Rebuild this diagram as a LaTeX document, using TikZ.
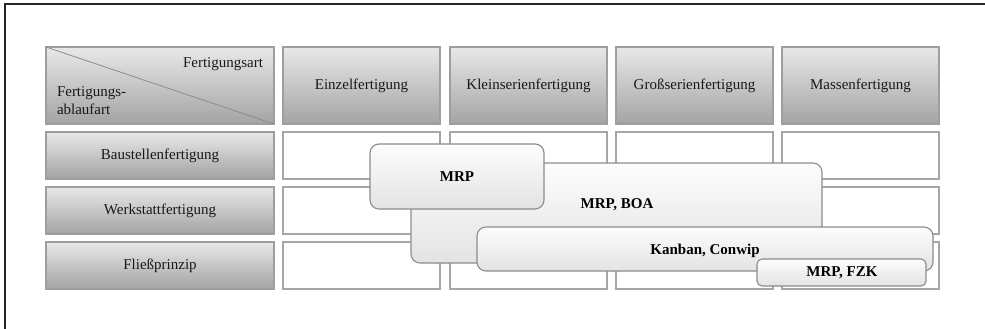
\documentclass[tikz,border=0pt]{standalone}
\usepackage{fontspec}
\setmainfont{Liberation Serif}
\begin{document}
\begin{tikzpicture}[x=1pt,y=-1pt,
  every node/.style={inner sep=0pt, outer sep=0pt},
  lbl/.style={font=\fontsize{15}{18}\selectfont, text=black!90},
  cellbox/.style={draw=black!35, line width=1.3pt, fill=white, anchor=north west},
  headbox/.style={cellbox, top color=black!9, bottom color=black!36, draw=black!38},
  areabox/.style={draw=black!45, line width=1.1pt, rounded corners=9pt,
    top color=black!1, bottom color=black!11},
  arealbl/.style={font=\fontsize{15}{18}\selectfont\bfseries, text=black}
]
\useasboundingbox (0,0) rectangle (985,329);
\fill[white] (0,0) rectangle (985,329);
% outer frame (open to the right and bottom)
\draw[line width=2pt, black!85] (4.5,335) -- (4.5,4.5) -- (990,4.5);

% column widths and row heights
\def\cw{157}
\def\rh{47}

% header row
\node[headbox, minimum width=228pt, minimum height=77pt] (corner) at (46,47) {};
\draw[black!45, line width=0.8pt] (corner.north west) -- (corner.south east);
\node[lbl, anchor=east] (art) at (263,64) {Fertigungsart};
\node[lbl, anchor=west, align=left] (ablauf) at (57,101) {Fertigungs-\\ablaufart};

\node[headbox, minimum width=\cw pt, minimum height=77pt] (h1) at (283,47) {};
\node[headbox, minimum width=\cw pt, minimum height=77pt] (h2) at (450,47) {};
\node[headbox, minimum width=\cw pt, minimum height=77pt] (h3) at (616,47) {};
\node[headbox, minimum width=\cw pt, minimum height=77pt] (h4) at (782,47) {};
\node[lbl] at (h1.center) {Einzelfertigung};
\node[lbl] at (h2.center) {Kleinserienfertigung};
\node[lbl] at (h3.center) {Großserienfertigung};
\node[lbl] at (h4.center) {Massenfertigung};

% row headers
\node[headbox, minimum width=228pt, minimum height=\rh pt] (r1) at (46,132) {};
\node[headbox, minimum width=228pt, minimum height=\rh pt] (r2) at (46,187) {};
\node[headbox, minimum width=228pt, minimum height=\rh pt] (r3) at (46,242) {};
\node[lbl] at (r1.center) {Baustellenfertigung};
\node[lbl] at (r2.center) {Werkstattfertigung};
\node[lbl] at (r3.center) {Fließprinzip};

% empty matrix cells
\foreach \y [count=\i] in {132,187,242}{
  \foreach \x [count=\j] in {283,450,616,782}{
    \node[cellbox, minimum width=\cw pt, minimum height=\rh pt] (c\i\j) at (\x,\y) {};
  }
}

% planning approaches laid over the matrix
\node[areabox, anchor=north west, minimum width=411pt, minimum height=100pt] (boa) at (411,163) {};
\node[areabox, anchor=north west, minimum width=174pt, minimum height=65pt] (mrp) at (370,144) {};
\node[areabox, anchor=north west, minimum width=456pt, minimum height=44pt] (kanban) at (477,227) {};
\node[areabox, rounded corners=5pt, anchor=north west, minimum width=169pt, minimum height=27pt] (fzk) at (757,259) {};

\node[arealbl] at (457,177) {MRP};
\node[arealbl] at (617,205) {MRP, BOA};
\node[arealbl] at (705,251) {Kanban, Conwip};
\node[arealbl] at (842,273) {MRP, FZK};
\end{tikzpicture}
\end{document}
